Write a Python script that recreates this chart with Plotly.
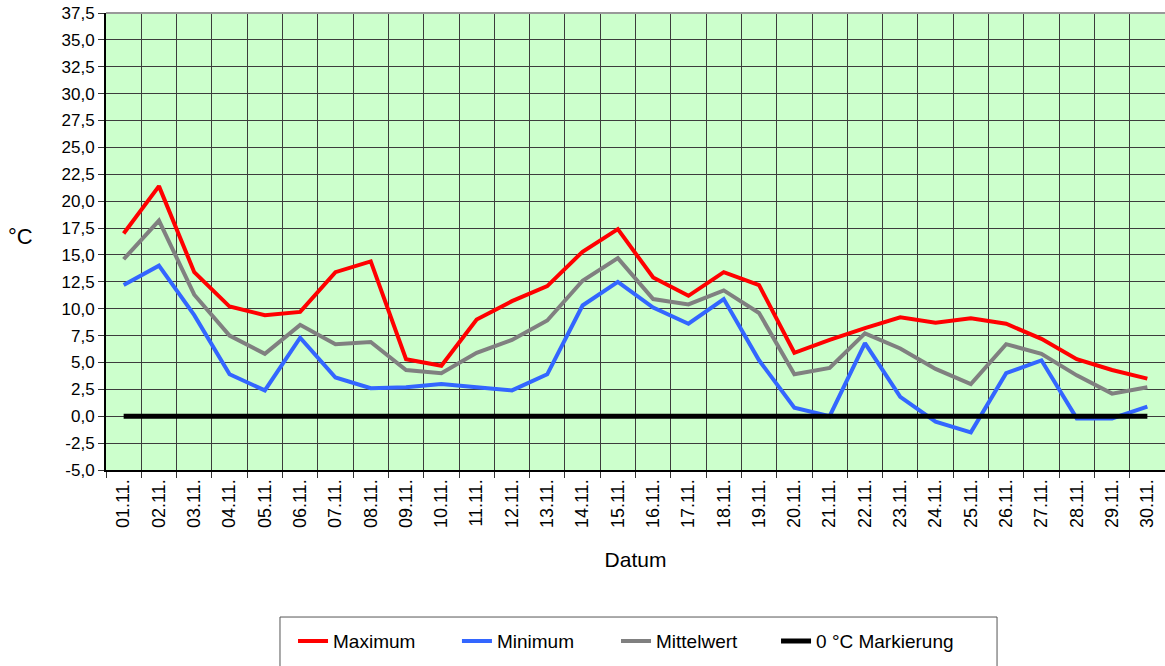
import plotly.graph_objects as go

dates = ["01.11.", "02.11.", "03.11.", "04.11.", "05.11.", "06.11.", "07.11.", "08.11.",
         "09.11.", "10.11.", "11.11.", "12.11.", "13.11.", "14.11.", "15.11.", "16.11.",
         "17.11.", "18.11.", "19.11.", "20.11.", "21.11.", "22.11.", "23.11.", "24.11.",
         "25.11.", "26.11.", "27.11.", "28.11.", "29.11.", "30.11."]

maximum = [17.0, 21.4, 13.4, 10.2, 9.4, 9.7, 13.4, 14.4, 5.3, 4.7, 9.0, 10.7, 12.1, 15.3, 17.4,
           12.9, 11.2, 13.4, 12.2, 5.9, 7.1, 8.2, 9.2, 8.7, 9.1, 8.6, 7.2, 5.3, 4.3, 3.5]
minimum = [12.2, 14.0, 9.4, 3.9, 2.4, 7.3, 3.6, 2.6, 2.7, 3.0, 2.7, 2.4, 3.9, 10.3, 12.5,
           10.1, 8.6, 10.9, 5.2, 0.8, 0.0, 6.8, 1.8, -0.5, -1.5, 4.0, 5.2, -0.2, -0.2, 0.9]
mittelwert = [14.6, 18.2, 11.3, 7.5, 5.8, 8.5, 6.7, 6.9, 4.3, 4.0, 5.9, 7.1, 8.9, 12.6, 14.7,
              10.9, 10.4, 11.7, 9.6, 3.9, 4.5, 7.7, 6.3, 4.4, 3.0, 6.7, 5.8, 3.8, 2.1, 2.7]
null_markierung = [0.0, 0.0, 0.0, 0.0, 0.0, 0.0, 0.0, 0.0, 0.0, 0.0, 0.0, 0.0, 0.0, 0.0, 0.0,
                   0.0, 0.0, 0.0, 0.0, 0.0, 0.0, 0.0, 0.0, 0.0, 0.0, 0.0, 0.0, 0.0, 0.0, 0.0]

ytick_values = [-5.0, -2.5, 0.0, 2.5, 5.0, 7.5, 10.0, 12.5, 15.0, 17.5, 20.0, 22.5, 25.0,
                27.5, 30.0, 32.5, 35.0, 37.5]
ytick_labels = ["-5,0", "-2,5", "0,0", "2,5", "5,0", "7,5", "10,0", "12,5", "15,0", "17,5",
                "20,0", "22,5", "25,0", "27,5", "30,0", "32,5", "35,0", "37,5"]

FONT = "Liberation Sans, Arial, sans-serif"

series = [
    ("Maximum", maximum, "#FF0000", 4, "legend", 0.1766),
    ("Minimum", minimum, "#3366FF", 4, "legend2", 0.3314),
    ("Mittelwert", mittelwert, "#808080", 4, "legend3", 0.4816),
    ("0 °C Markierung", null_markierung, "#000000", 5, "legend4", 0.6327),
]

fig = go.Figure()
legends = {}
for name, vals, color, width, lg, lx in series:
    fig.add_trace(go.Scatter(x=dates, y=vals, mode="lines", name=name, legend=lg,
                             line=dict(color=color, width=width)))
    legends[lg] = dict(
        orientation="h",
        x=lx, xanchor="left",
        y=-0.333, yanchor="top",
        borderwidth=0,
        bgcolor="rgba(0,0,0,0)",
        font=dict(family=FONT, size=19, color="black"),
    )

grid = "#3c3c3c"
fig.update_layout(
    width=1165, height=666,
    margin=dict(l=106, r=0, t=13, b=196, autoexpand=False),
    paper_bgcolor="white",
    plot_bgcolor="#CCFFCC",
    font=dict(family=FONT, size=17, color="black"),
    showlegend=True,
    xaxis=dict(
        type="category",
        range=[-0.5, 29.5],
        tickson="boundaries",
        ticks="outside", ticklen=6, tickcolor="#333333",
        showgrid=True, gridcolor=grid, gridwidth=1,
        showline=True, linecolor="black", linewidth=2,
        tickangle=-90,
        tickfont=dict(size=18),
        ticklabeloverflow="allow",
        title=dict(text="Datum", font=dict(size=21), standoff=25),
    ),
    yaxis=dict(
        range=[-5, 37.5],
        tickmode="array", tickvals=ytick_values, ticktext=ytick_labels,
        ticks="outside", ticklen=6, tickcolor="#333333",
        showgrid=True, gridcolor=grid, gridwidth=1,
        zeroline=False,
        showline=True, linecolor="black", linewidth=2,
        tickfont=dict(size=17),
        ticklabeloverflow="allow",
    ),
    annotations=[
        dict(text="°C", xref="paper", yref="paper", x=-0.0803, y=0.512,
             xanchor="center", yanchor="middle", showarrow=False,
             font=dict(family=FONT, size=22, color="black")),
    ],
    shapes=[
        dict(type="line", xref="paper", yref="paper", x0=0, x1=1, y0=1, y1=1,
             line=dict(color="#999999", width=2)),
        dict(type="rect", xref="paper", yref="paper", x0=0.1643, x1=0.8414,
             y0=-0.3217, y1=-0.442, line=dict(color="#555555", width=1),
             fillcolor="rgba(0,0,0,0)"),
    ],
)
fig.update_layout(**legends)

fig.write_html("out.html",
               config={"displayModeBar": False},
               post_script="document.body.style.margin='0';document.body.style.overflow='hidden';")
